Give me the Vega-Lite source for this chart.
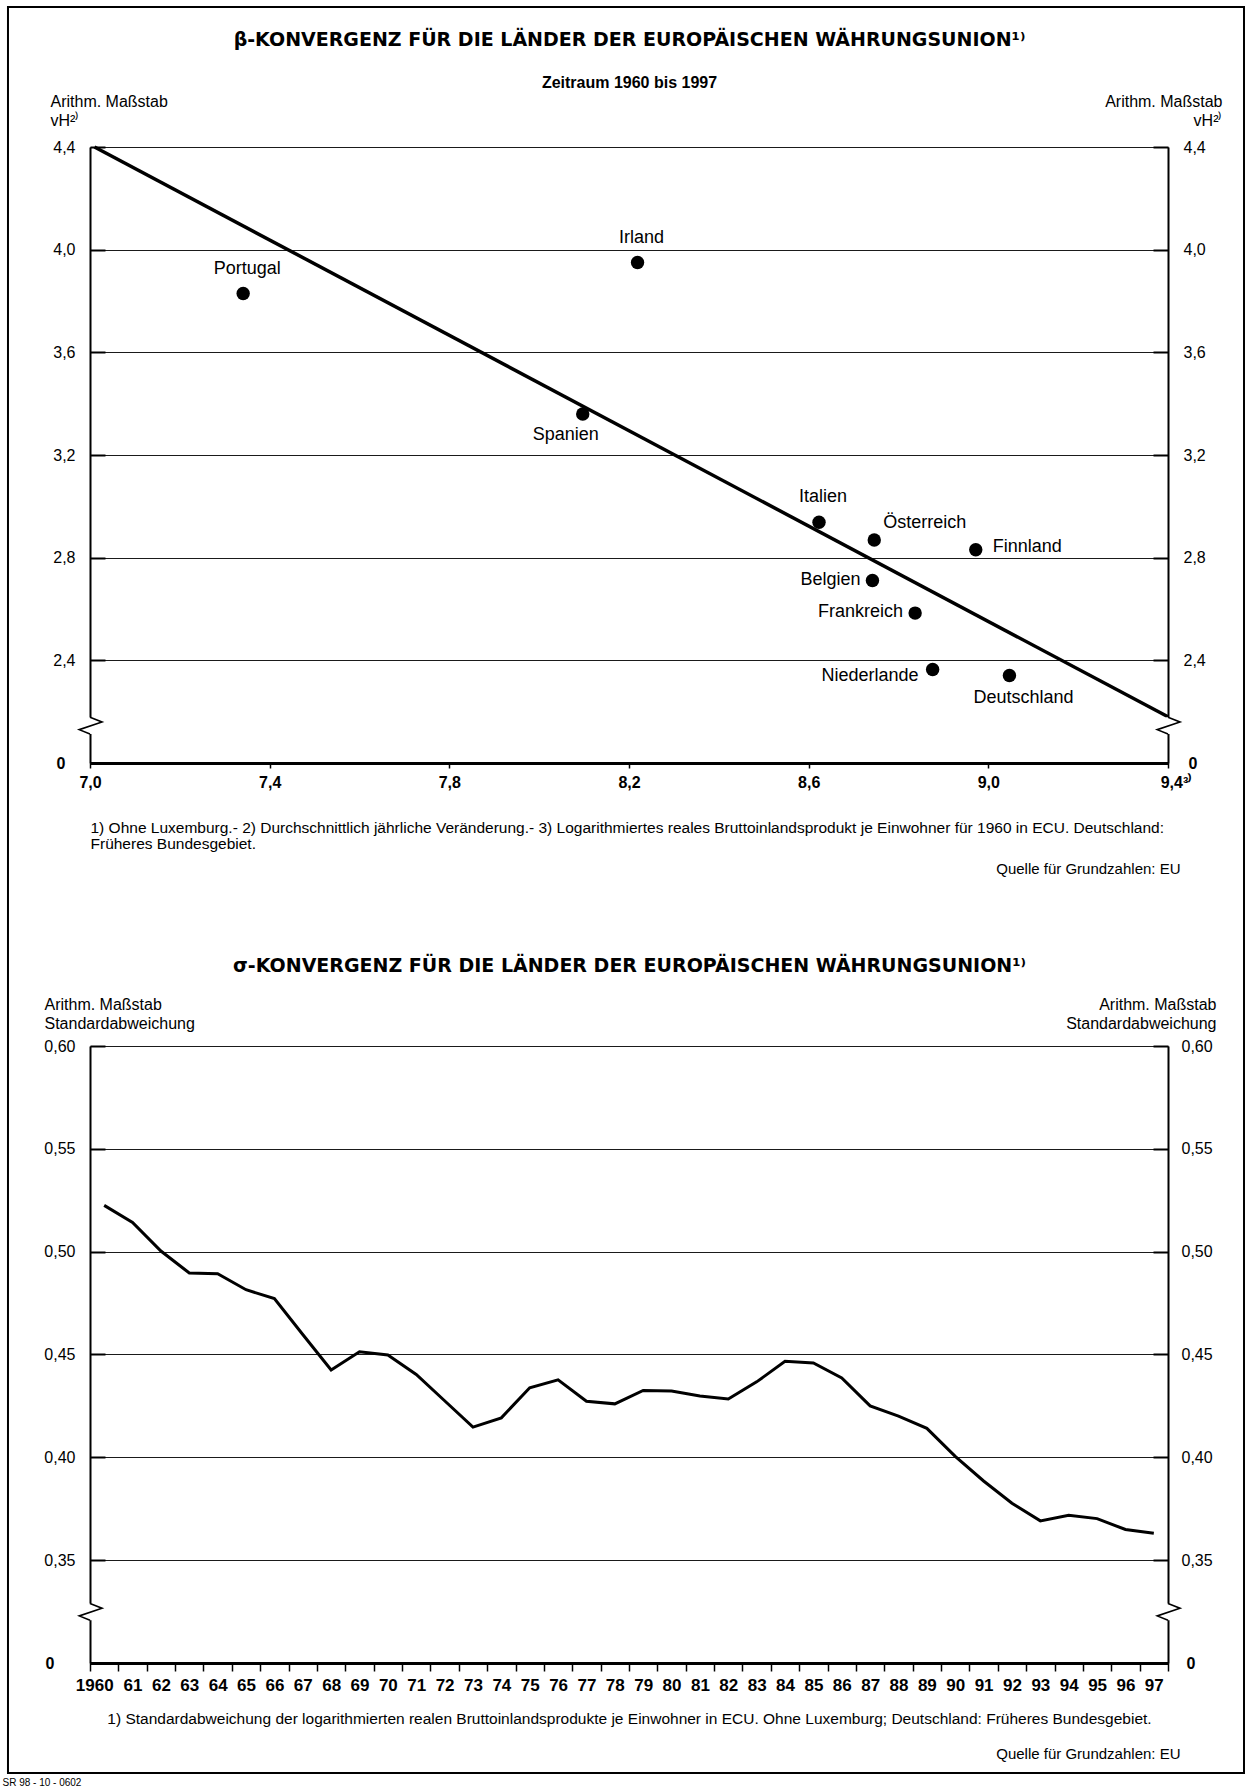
{
  "$schema": "https://vega.github.io/schema/vega-lite/v6.json",
  "background": "white",
  "padding": {"left": 2, "top": 5, "right": 5, "bottom": 2},
  "spacing": 283,
  "bounds": "flush",
  "config": {
    "font": "Liberation Sans",
    "view": {"stroke": null},
    "axis": {"labelFont": "Liberation Sans", "titleFont": "Liberation Sans", "labelColor": "black", "titleColor": "black", "domainColor": "black", "tickColor": "black", "gridColor": "#1a1a1a", "labelOverlap": false, "labelFlush": false}
  },
  "datasets": {
    "laender": [
      {"land": "Portugal", "x": 7.341, "y": 3.829},
      {"land": "Irland", "x": 8.219, "y": 3.95},
      {"land": "Spanien", "x": 8.097, "y": 3.36},
      {"land": "Italien", "x": 8.623, "y": 2.938},
      {"land": "Österreich", "x": 8.746, "y": 2.869},
      {"land": "Finnland", "x": 8.972, "y": 2.831},
      {"land": "Belgien", "x": 8.742, "y": 2.711},
      {"land": "Frankreich", "x": 8.837, "y": 2.584},
      {"land": "Niederlande", "x": 8.876, "y": 2.364},
      {"land": "Deutschland", "x": 9.047, "y": 2.341}
    ],
    "sigma": [
      {"jahr": 1960, "sd": 0.5225}, {"jahr": 1961, "sd": 0.5142}, {"jahr": 1962, "sd": 0.5003}, {"jahr": 1963, "sd": 0.4896},
      {"jahr": 1964, "sd": 0.4893}, {"jahr": 1965, "sd": 0.4815}, {"jahr": 1966, "sd": 0.4772}, {"jahr": 1967, "sd": 0.4597},
      {"jahr": 1968, "sd": 0.4425}, {"jahr": 1969, "sd": 0.4513}, {"jahr": 1970, "sd": 0.4498}, {"jahr": 1971, "sd": 0.4403},
      {"jahr": 1972, "sd": 0.4275}, {"jahr": 1973, "sd": 0.4147}, {"jahr": 1974, "sd": 0.4192}, {"jahr": 1975, "sd": 0.4338},
      {"jahr": 1976, "sd": 0.4377}, {"jahr": 1977, "sd": 0.4273}, {"jahr": 1978, "sd": 0.426}, {"jahr": 1979, "sd": 0.4325},
      {"jahr": 1980, "sd": 0.4322}, {"jahr": 1981, "sd": 0.4298}, {"jahr": 1982, "sd": 0.4284}, {"jahr": 1983, "sd": 0.4367},
      {"jahr": 1984, "sd": 0.4467}, {"jahr": 1985, "sd": 0.4459}, {"jahr": 1986, "sd": 0.4386}, {"jahr": 1987, "sd": 0.425},
      {"jahr": 1988, "sd": 0.42}, {"jahr": 1989, "sd": 0.4141}, {"jahr": 1990, "sd": 0.4005}, {"jahr": 1991, "sd": 0.3885},
      {"jahr": 1992, "sd": 0.3777}, {"jahr": 1993, "sd": 0.3691}, {"jahr": 1994, "sd": 0.3718}, {"jahr": 1995, "sd": 0.3702},
      {"jahr": 1996, "sd": 0.3649}, {"jahr": 1997, "sd": 0.3631}
    ]
  },
  "vconcat": [
    {
      "width": 1078,
      "height": 616,
      "data": {"name": "laender"},
      "layer": [
        {
          "data": {"values": [{"x": 7.01, "y": 4.4}, {"x": 9.4, "y": 2.18}]},
          "mark": {"type": "line", "color": "black", "strokeWidth": 3.5},
          "encoding": {
            "x": {"field": "x", "type": "quantitative", "scale": {"domain": [7.0, 9.4], "nice": false, "zero": false},
              "axis": {"orient": "bottom", "values": [7.0, 7.4, 7.8, 8.2, 8.6, 9.0, 9.4],
                "labelExpr": "replace(format(datum.value, '.1f'), '.', ',') + (datum.value > 9.3 ? '³⁾' : '')",
                "labelFontSize": 16, "labelFontWeight": "bold",
                "labelOffset": {"condition": {"test": "datum.value > 9.3", "value": 8}, "value": 0},
                "tickSize": 5, "tickWidth": 1.5, "labelPadding": 6, "domainWidth": 3, "grid": false,
                "title": ["1) Ohne Luxemburg.- 2) Durchschnittlich jährliche Veränderung.- 3) Logarithmiertes reales Bruttoinlandsprodukt je Einwohner für 1960 in ECU. Deutschland:", "Früheres Bundesgebiet."],
                "titleFontSize": 15.5, "titleFontWeight": "normal", "titleAnchor": "start", "titleAlign": "left", "titleBaseline": "top", "titleX": 0, "titleY": 57, "titleLineHeight": 16.5}},
            "y": {"field": "y", "type": "quantitative", "scale": {"domain": [2.0, 4.4], "nice": false, "zero": false},
              "axis": {"orient": "left", "values": [2.0, 2.4, 2.8, 3.2, 3.6, 4.0, 4.4],
                "labelExpr": "datum.value < 2.1 ? '0' : replace(format(datum.value, '.1f'), '.', ',')",
                "labelFontSize": 16,
                "labelFontWeight": {"condition": {"test": "datum.value < 2.1", "value": "bold"}, "value": "normal"},
                "labelPadding": {"condition": {"test": "datum.value < 2.1", "value": 40}, "value": 30},
                "tickSize": -15, "tickWidth": 2, "domainWidth": 2, "grid": true, "gridWidth": 1.2,
                "title": ["Arithm. Maßstab", "vH²⁾"], "titleFontSize": 16, "titleFontWeight": "normal", "titleAngle": 0, "titleAlign": "left", "titleBaseline": "top", "titleX": -40, "titleY": -54, "titleLineHeight": 19}}
          }
        },
        {
          "mark": {"type": "circle", "size": 180, "color": "black", "opacity": 1},
          "encoding": {
            "x": {"field": "x", "type": "quantitative", "scale": {"domain": [7.0, 9.4], "nice": false, "zero": false},
              "axis": {"orient": "bottom", "labels": false, "ticks": false, "domain": false, "grid": false,
                "title": "Quelle für Grundzahlen: EU", "titleFontSize": 15, "titleFontWeight": "normal", "titleAlign": "right", "titleBaseline": "top", "titleX": 1090, "titleY": 98}},
            "y": {"field": "y", "type": "quantitative", "scale": {"domain": [2.0, 4.4], "nice": false, "zero": false},
              "axis": {"orient": "right", "values": [2.0, 2.4, 2.8, 3.2, 3.6, 4.0, 4.4],
                "labelExpr": "datum.value < 2.1 ? '0' : replace(format(datum.value, '.1f'), '.', ',')",
                "labelFontSize": 16,
                "labelFontWeight": {"condition": {"test": "datum.value < 2.1", "value": "bold"}, "value": "normal"},
                "labelPadding": {"condition": {"test": "datum.value < 2.1", "value": 35}, "value": 30},
                "tickSize": -15, "tickWidth": 2, "domainWidth": 2, "grid": false,
                "title": ["Arithm. Maßstab", "vH²⁾"], "titleFontSize": 16, "titleFontWeight": "normal", "titleAngle": 0, "titleAlign": "right", "titleBaseline": "top", "titleX": 54, "titleY": -54, "titleLineHeight": 19}}
          }
        },
        {
          "transform": [{"filter": {"field": "land", "oneOf": ["Portugal", "Irland", "Italien"]}}],
          "mark": {"type": "text", "fontSize": 18, "align": "center", "baseline": "middle", "dx": 4, "dy": -25, "color": "black"},
          "encoding": {
            "x": {"field": "x", "type": "quantitative", "scale": {"domain": [7.0, 9.4], "nice": false, "zero": false},
              "axis": {"orient": "top", "labels": false, "ticks": false, "domain": false, "grid": false,
                "title": "β-KONVERGENZ FÜR DIE LÄNDER DER EUROPÄISCHEN WÄHRUNGSUNION¹⁾", "titleFont": "DejaVu Sans", "titleFontSize": 19, "titleFontWeight": "bold", "titleAlign": "center", "titleBaseline": "middle", "titleX": 539, "titleY": -108}},
            "y": {"field": "y", "type": "quantitative", "scale": {"domain": [2.0, 4.4], "nice": false, "zero": false}, "axis": null},
            "text": {"field": "land"}
          }
        },
        {
          "transform": [{"filter": {"field": "land", "equal": "Spanien"}}],
          "mark": {"type": "text", "fontSize": 18, "align": "center", "baseline": "middle", "dx": -17, "dy": 21, "color": "black"},
          "encoding": {
            "x": {"field": "x", "type": "quantitative", "scale": {"domain": [7.0, 9.4], "nice": false, "zero": false},
              "axis": {"orient": "top", "labels": false, "ticks": false, "domain": false, "grid": false,
                "title": "Zeitraum 1960 bis 1997", "titleFontSize": 16, "titleFontWeight": "bold", "titleAlign": "center", "titleBaseline": "middle", "titleX": 539, "titleY": -65}},
            "y": {"field": "y", "type": "quantitative", "scale": {"domain": [2.0, 4.4], "nice": false, "zero": false}, "axis": null},
            "text": {"field": "land"}
          }
        },
        {
          "transform": [{"filter": {"field": "land", "equal": "Deutschland"}}],
          "mark": {"type": "text", "fontSize": 18, "align": "center", "baseline": "middle", "dx": 14, "dy": 23, "color": "black"},
          "encoding": {
            "x": {"field": "x", "type": "quantitative", "scale": {"domain": [7.0, 9.4], "nice": false, "zero": false}, "axis": null},
            "y": {"field": "y", "type": "quantitative", "scale": {"domain": [2.0, 4.4], "nice": false, "zero": false}, "axis": null},
            "text": {"field": "land"}
          }
        },
        {
          "transform": [{"filter": {"field": "land", "equal": "Österreich"}}],
          "mark": {"type": "text", "fontSize": 18, "align": "left", "baseline": "middle", "dx": 9, "dy": -17, "color": "black"},
          "encoding": {
            "x": {"field": "x", "type": "quantitative", "scale": {"domain": [7.0, 9.4], "nice": false, "zero": false}, "axis": null},
            "y": {"field": "y", "type": "quantitative", "scale": {"domain": [2.0, 4.4], "nice": false, "zero": false}, "axis": null},
            "text": {"field": "land"}
          }
        },
        {
          "transform": [{"filter": {"field": "land", "equal": "Finnland"}}],
          "mark": {"type": "text", "fontSize": 18, "align": "left", "baseline": "middle", "dx": 17, "dy": -3, "color": "black"},
          "encoding": {
            "x": {"field": "x", "type": "quantitative", "scale": {"domain": [7.0, 9.4], "nice": false, "zero": false}, "axis": null},
            "y": {"field": "y", "type": "quantitative", "scale": {"domain": [2.0, 4.4], "nice": false, "zero": false}, "axis": null},
            "text": {"field": "land"}
          }
        },
        {
          "transform": [{"filter": {"field": "land", "oneOf": ["Belgien", "Frankreich"]}}],
          "mark": {"type": "text", "fontSize": 18, "align": "right", "baseline": "middle", "dx": -12, "dy": -1, "color": "black"},
          "encoding": {
            "x": {"field": "x", "type": "quantitative", "scale": {"domain": [7.0, 9.4], "nice": false, "zero": false}, "axis": null},
            "y": {"field": "y", "type": "quantitative", "scale": {"domain": [2.0, 4.4], "nice": false, "zero": false}, "axis": null},
            "text": {"field": "land"}
          }
        },
        {
          "transform": [{"filter": {"field": "land", "equal": "Niederlande"}}],
          "mark": {"type": "text", "fontSize": 18, "align": "right", "baseline": "middle", "dx": -14, "dy": 6, "color": "black"},
          "encoding": {
            "x": {"field": "x", "type": "quantitative", "scale": {"domain": [7.0, 9.4], "nice": false, "zero": false}, "axis": null},
            "y": {"field": "y", "type": "quantitative", "scale": {"domain": [2.0, 4.4], "nice": false, "zero": false}, "axis": null},
            "text": {"field": "land"}
          }
        },
        {
          "data": {"values": [{"x": 7.0, "y1": 2.178, "y2": 2.113}, {"x": 9.4, "y1": 2.178, "y2": 2.113}]},
          "mark": {"type": "rule", "color": "white", "strokeWidth": 5},
          "encoding": {
            "x": {"field": "x", "type": "quantitative", "scale": {"domain": [7.0, 9.4], "nice": false, "zero": false}, "axis": null},
            "y": {"field": "y1", "type": "quantitative", "scale": {"domain": [2.0, 4.4], "nice": false, "zero": false}, "axis": null},
            "y2": {"field": "y2"}
          }
        },
        {
          "data": {"values": [
            {"s": "L", "k": 1, "x": 7.0, "y": 2.178}, {"s": "L", "k": 2, "x": 7.0267, "y": 2.16}, {"s": "L", "k": 3, "x": 6.976, "y": 2.13}, {"s": "L", "k": 4, "x": 7.0, "y": 2.113},
            {"s": "R", "k": 1, "x": 9.4, "y": 2.178}, {"s": "R", "k": 2, "x": 9.4267, "y": 2.16}, {"s": "R", "k": 3, "x": 9.376, "y": 2.13}, {"s": "R", "k": 4, "x": 9.4, "y": 2.113}
          ]},
          "mark": {"type": "line", "color": "black", "strokeWidth": 1.6},
          "encoding": {
            "x": {"field": "x", "type": "quantitative", "scale": {"domain": [7.0, 9.4], "nice": false, "zero": false}, "axis": null},
            "y": {"field": "y", "type": "quantitative", "scale": {"domain": [2.0, 4.4], "nice": false, "zero": false}, "axis": null},
            "detail": {"field": "s"},
            "order": {"field": "k"}
          }
        },
        {
          "data": {"values": [{"rahmen": "Seite"}]},
          "mark": {"type": "rect", "filled": false, "color": "black", "strokeWidth": 2},
          "encoding": {
            "x": {"datum": 6.8174, "type": "quantitative", "scale": {"domain": [7.0, 9.4], "nice": false, "zero": false}, "axis": null},
            "x2": {"datum": 9.5692},
            "y": {"datum": 4.9455, "type": "quantitative", "scale": {"domain": [2.0, 4.4], "nice": false, "zero": false}, "axis": null},
            "y2": {"datum": -1.9351}
          }
        }
      ],
      "resolve": {"axis": {"x": "independent", "y": "independent"}}
    },
    {
      "width": 1078,
      "height": 617,
      "layer": [
        {
          "data": {"name": "sigma"},
          "mark": {"type": "line", "color": "black", "strokeWidth": 3},
          "encoding": {
            "x": {"field": "jahr", "type": "quantitative", "scale": {"domain": [1959.5, 1997.5], "nice": false, "zero": false},
              "axis": {"orient": "bottom", "values": [1960, 1961, 1962, 1963, 1964, 1965, 1966, 1967, 1968, 1969, 1970, 1971, 1972, 1973, 1974, 1975, 1976, 1977, 1978, 1979, 1980, 1981, 1982, 1983, 1984, 1985, 1986, 1987, 1988, 1989, 1990, 1991, 1992, 1993, 1994, 1995, 1996, 1997],
                "format": "d",
                "labelExpr": "datum.value == 1960 ? '1960' : substring(datum.label, 2, 4)",
                "labelOffset": {"condition": {"test": "datum.value == 1960", "value": -10}, "value": 0},
                "labelFontSize": 17, "labelFontWeight": "bold", "ticks": false, "tickSize": 0, "labelPadding": 14, "domainWidth": 3, "grid": false,
                "title": "1) Standardabweichung der logarithmierten realen Bruttoinlandsprodukte je Einwohner in ECU. Ohne Luxemburg; Deutschland: Früheres Bundesgebiet.",
                "titleFontSize": 15.5, "titleFontWeight": "normal", "titleAnchor": "middle", "titleBaseline": "top", "titleY": 48}},
            "y": {"field": "sd", "type": "quantitative", "scale": {"domain": [0.3, 0.6], "nice": false, "zero": false},
              "axis": {"orient": "left", "values": [0.3, 0.35, 0.4, 0.45, 0.5, 0.55, 0.6],
                "labelExpr": "datum.value < 0.32 ? '0' : replace(format(datum.value, '.2f'), '.', ',')",
                "labelFontSize": 16,
                "labelFontWeight": {"condition": {"test": "datum.value < 0.32", "value": "bold"}, "value": "normal"},
                "labelPadding": {"condition": {"test": "datum.value < 0.32", "value": 51}, "value": 30},
                "tickSize": -15, "tickWidth": 2, "domainWidth": 2, "grid": true, "gridWidth": 1.2,
                "title": ["Arithm. Maßstab", "Standardabweichung"], "titleFontSize": 16, "titleFontWeight": "normal", "titleAngle": 0, "titleAlign": "left", "titleBaseline": "top", "titleX": -46, "titleY": -50, "titleLineHeight": 19}}
          }
        },
        {
          "data": {"values": [{"x": 1959.5, "y1": 0.3289, "y2": 0.3208}, {"x": 1997.5, "y1": 0.3289, "y2": 0.3208}]},
          "mark": {"type": "rule", "color": "white", "strokeWidth": 5},
          "encoding": {
            "x": {"field": "x", "type": "quantitative", "scale": {"domain": [1959.5, 1997.5], "nice": false, "zero": false},
              "axis": {"orient": "bottom", "values": [1959.5, 1960.5, 1961.5, 1962.5, 1963.5, 1964.5, 1965.5, 1966.5, 1967.5, 1968.5, 1969.5, 1970.5, 1971.5, 1972.5, 1973.5, 1974.5, 1975.5, 1976.5, 1977.5, 1978.5, 1979.5, 1980.5, 1981.5, 1982.5, 1983.5, 1984.5, 1985.5, 1986.5, 1987.5, 1988.5, 1989.5, 1990.5, 1991.5, 1992.5, 1993.5, 1994.5, 1995.5, 1996.5, 1997.5],
                "labels": false, "ticks": true, "tickSize": 8, "tickWidth": 1.5, "domain": false, "grid": false,
                "title": "Quelle für Grundzahlen: EU", "titleFontSize": 15, "titleFontWeight": "normal", "titleAlign": "right", "titleBaseline": "top", "titleX": 1090, "titleY": 83}},
            "y": {"field": "y1", "type": "quantitative", "scale": {"domain": [0.3, 0.6], "nice": false, "zero": false},
              "axis": {"orient": "right", "values": [0.3, 0.35, 0.4, 0.45, 0.5, 0.55, 0.6],
                "labelExpr": "datum.value < 0.32 ? '0' : replace(format(datum.value, '.2f'), '.', ',')",
                "labelFontSize": 16,
                "labelFontWeight": {"condition": {"test": "datum.value < 0.32", "value": "bold"}, "value": "normal"},
                "labelPadding": {"condition": {"test": "datum.value < 0.32", "value": 33}, "value": 28},
                "tickSize": -15, "tickWidth": 2, "domainWidth": 2, "grid": false,
                "title": ["Arithm. Maßstab", "Standardabweichung"], "titleFontSize": 16, "titleFontWeight": "normal", "titleAngle": 0, "titleAlign": "right", "titleBaseline": "top", "titleX": 48, "titleY": -50, "titleLineHeight": 19}},
            "y2": {"field": "y2"}
          }
        },
        {
          "data": {"values": [
            {"s": "L", "k": 1, "x": 1959.5, "y": 0.3289}, {"s": "L", "k": 2, "x": 1959.923, "y": 0.3266}, {"s": "L", "k": 3, "x": 1959.123, "y": 0.3229}, {"s": "L", "k": 4, "x": 1959.5, "y": 0.3208},
            {"s": "R", "k": 1, "x": 1997.5, "y": 0.3289}, {"s": "R", "k": 2, "x": 1997.923, "y": 0.3266}, {"s": "R", "k": 3, "x": 1997.123, "y": 0.3229}, {"s": "R", "k": 4, "x": 1997.5, "y": 0.3208}
          ]},
          "mark": {"type": "line", "color": "black", "strokeWidth": 1.6},
          "encoding": {
            "x": {"field": "x", "type": "quantitative", "scale": {"domain": [1959.5, 1997.5], "nice": false, "zero": false},
              "axis": {"orient": "bottom", "labels": false, "ticks": false, "domain": false, "grid": false,
                "title": "SR 98 - 10 - 0602", "titleFontSize": 10, "titleFontWeight": "normal", "titleAlign": "left", "titleBaseline": "top", "titleX": -88, "titleY": 114}},
            "y": {"field": "y", "type": "quantitative", "scale": {"domain": [0.3, 0.6], "nice": false, "zero": false},
              "axis": {"orient": "left", "labels": false, "ticks": false, "domain": false, "grid": false,
                "title": "σ-KONVERGENZ FÜR DIE LÄNDER DER EUROPÄISCHEN WÄHRUNGSUNION¹⁾", "titleFont": "DejaVu Sans", "titleFontSize": 19, "titleFontWeight": "bold", "titleAngle": 0, "titleAlign": "center", "titleBaseline": "middle", "titleX": 539, "titleY": -81}},
            "detail": {"field": "s"},
            "order": {"field": "k"}
          }
        }
      ],
      "resolve": {"axis": {"x": "independent", "y": "independent"}}
    }
  ]
}
